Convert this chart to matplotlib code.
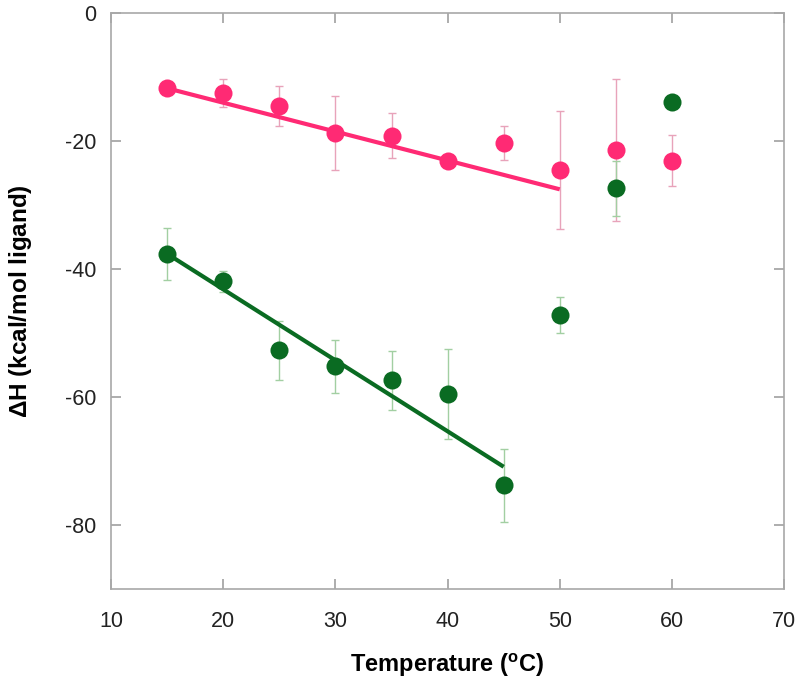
import numpy as np
import matplotlib
matplotlib.use("Agg")
import matplotlib.pyplot as plt

plt.rcParams["font.family"] = ["Liberation Sans", "DejaVu Sans"]
plt.rcParams["mathtext.fontset"] = "custom"
plt.rcParams["mathtext.rm"] = "Liberation Sans:bold"
plt.rcParams["mathtext.bf"] = "Liberation Sans:bold"
plt.rcParams["axes.unicode_minus"] = False

temps = [15, 20, 25, 30, 35, 40, 45, 50, 55, 60]

# pink series
pink_dh = [-11.7, -12.4, -14.5, -18.7, -19.1, -23.0, -20.2, -24.5, -21.3, -23.0]
pink_err = [0.0, 2.2, 3.1, 5.8, 3.5, 0.0, 2.65, 9.2, 11.1, 4.05]
pink_fit_x = [15, 50]
pink_fit_y = [-11.7, -27.5]

# green series
green_dh = [-37.6, -41.9, -52.7, -55.2, -57.4, -59.5, -73.8, -47.2, -27.3, -13.9]
green_err = [4.1, 1.7, 4.6, 4.2, 4.6, 7.1, 5.7, 2.8, 4.3, 0.0]
green_fit_x = [15, 45]
green_fit_y = [-37.6, -70.9]

pink = "#ff2a74"
pink_light = "#e8a3ba"
green = "#0a6b22"
green_light = "#a2cfa2"

fig = plt.figure(figsize=(8, 6.92), dpi=100)
ax = fig.add_axes([0.139, 0.149, 0.841, 0.8315])

ax.errorbar(temps, pink_dh, yerr=pink_err, fmt="none", ecolor=pink_light,
            elinewidth=1, capsize=3, capthick=1, zorder=1)
ax.errorbar(temps, green_dh, yerr=green_err, fmt="none", ecolor=green_light,
            elinewidth=1, capsize=3, capthick=1, zorder=1)

ax.plot(pink_fit_x, pink_fit_y, color=pink, lw=3, solid_capstyle="butt", zorder=2)
ax.plot(green_fit_x, green_fit_y, color=green, lw=3, solid_capstyle="butt", zorder=2)

ax.plot(temps, pink_dh, "o", color=pink, ms=13, mec="none", zorder=3)
ax.plot(temps, green_dh, "o", color=green, ms=13, mec="none", zorder=3)

ax.set_xlim(10, 70)
ax.set_ylim(-90, 0)
ax.set_xticks(np.arange(10, 71, 10))
ax.set_yticks(np.arange(-80, 1, 20))

for s in ax.spines.values():
    s.set_color("#a8a8a8")
    s.set_linewidth(1.2)
ax.tick_params(direction="in", length=7, width=1.2, color="#a0a0a0",
               top=True, right=True, labelsize=15.5, labelcolor="#222222")
ax.tick_params(axis="x", pad=16)
ax.tick_params(axis="y", pad=11)

ax.set_xlabel(r"Temperature ($^{\mathrm{o}}$C)", fontsize=17, fontweight="bold", labelpad=14)
ax.set_ylabel(r"$\Delta$H (kcal/mol ligand)", fontsize=17.5, fontweight="bold", labelpad=22)

fig.savefig("out.png", dpi=100)
